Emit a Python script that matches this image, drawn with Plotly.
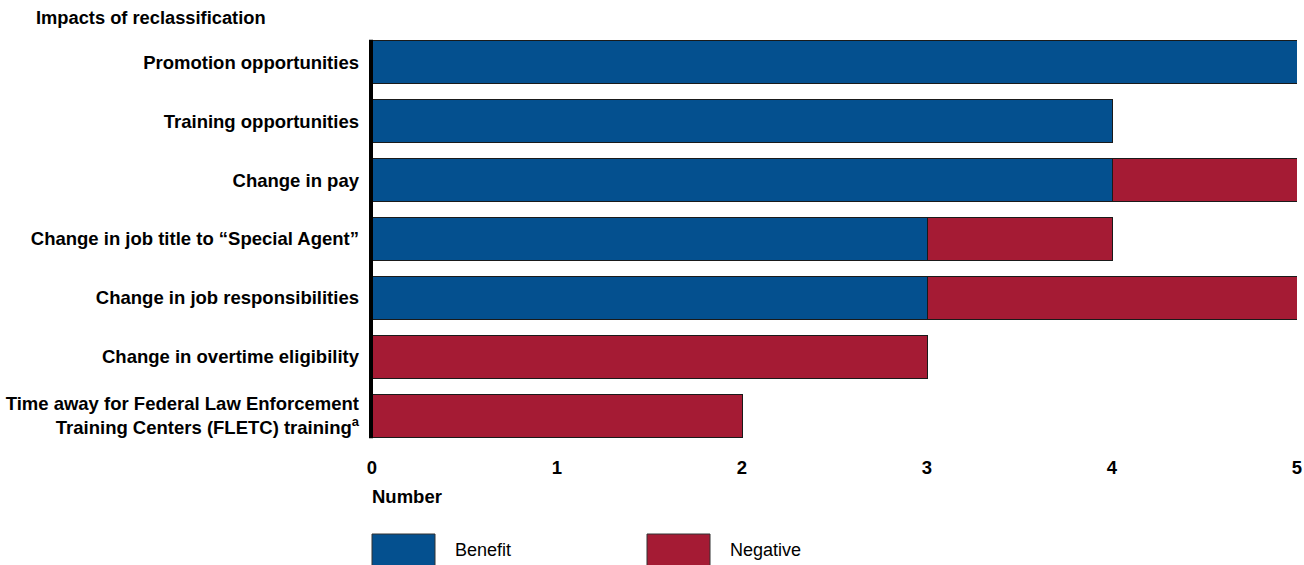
import plotly.graph_objects as go

# Impacts of reclassification, counted by type of effect
categories = [
    "Promotion opportunities",
    "Training opportunities",
    "Change in pay",
    "Change in job title to \u201cSpecial Agent\u201d",
    "Change in job responsibilities",
    "Change in overtime eligibility",
    "Time away for Federal Law Enforcement<br>Training Centers (FLETC) training<sup>a</sup>",
]
benefit = [5, 4, 4, 3, 3, 0, 0]
negative = [0, 0, 1, 1, 2, 3, 2]
x_ticks = [0, 1, 2, 3, 4, 5]

BLUE = "#04508F"
RED = "#A51B34"
EDGE = "#1a1a1a"
FONT = "Liberation Sans, Arial, sans-serif"

W, H = 1304, 565
L, R, T, B = 372, 7, 33, 120
pw, ph = W - L - R, H - T - B


def px_x(px):
    return (px - L) / pw


def px_y(py):
    return (H - B - py) / ph


fig = go.Figure()
fig.add_trace(go.Bar(
    y=categories, x=benefit, orientation="h", name="Benefit",
    marker=dict(color=BLUE, line=dict(color=EDGE, width=1)),
    width=0.73, hoverinfo="skip",
))
fig.add_trace(go.Bar(
    y=categories, x=negative, orientation="h", name="Negative",
    marker=dict(color=RED, line=dict(color=EDGE, width=1)),
    width=0.73, hoverinfo="skip",
))

shapes = [
    # heavy baseline at zero, spanning the bars
    dict(type="line", xref="paper", yref="y", x0=px_x(371), x1=px_x(371),
         y0=-0.385, y1=6.385, line=dict(color="black", width=4), layer="above"),
]
annotations = [
    dict(text="<b>Number</b>", xref="paper", yref="paper",
         x=px_x(370), y=px_y(496), xanchor="left", yanchor="middle",
         showarrow=False, font=dict(family=FONT, size=18.5, color="black")),
]

# legend swatches and labels
legend_items = [("Benefit", BLUE, 372), ("Negative", RED, 647)]
for label, color, left in legend_items:
    shapes.append(dict(type="rect", xref="paper", yref="paper",
                       x0=px_x(left), x1=px_x(left + 63),
                       y0=px_y(534), y1=px_y(575),
                       fillcolor=color, line=dict(color="#333333", width=1)))
    annotations.append(dict(text=label, xref="paper", yref="paper",
                            x=px_x(left + 81), y=px_y(550),
                            xanchor="left", yanchor="middle", showarrow=False,
                            font=dict(family=FONT, size=18, color="black")))

fig.update_layout(
    barmode="stack",
    width=W, height=H,
    margin=dict(l=L, r=R, t=T, b=B, pad=0),
    paper_bgcolor="white", plot_bgcolor="white",
    showlegend=False,
    title=dict(text="<b>Impacts of reclassification</b>", x=36 / W, y=1 - 18 / H,
               xanchor="left", yanchor="middle", xref="container",
               yref="container", font=dict(family=FONT, size=18.3, color="black")),
    xaxis=dict(range=[0, 5], tickvals=x_ticks, ticktext=[f"<b>{v}</b>" for v in x_ticks],
               showgrid=False, zeroline=False, showline=False, ticks="",
               ticklabelstandoff=9, automargin=False,
               tickfont=dict(family=FONT, size=18.5, color="black")),
    yaxis=dict(autorange="reversed", showgrid=False, zeroline=False, showline=False,
               ticks="", ticklabelstandoff=12, automargin=False,
               tickfont=dict(family=FONT, size=18.5, color="black"),
               tickvals=categories,
               ticktext=[f"<b>{c}</b>" for c in categories]),
    shapes=shapes,
    annotations=annotations,
)

fig.write_html("out.html")
